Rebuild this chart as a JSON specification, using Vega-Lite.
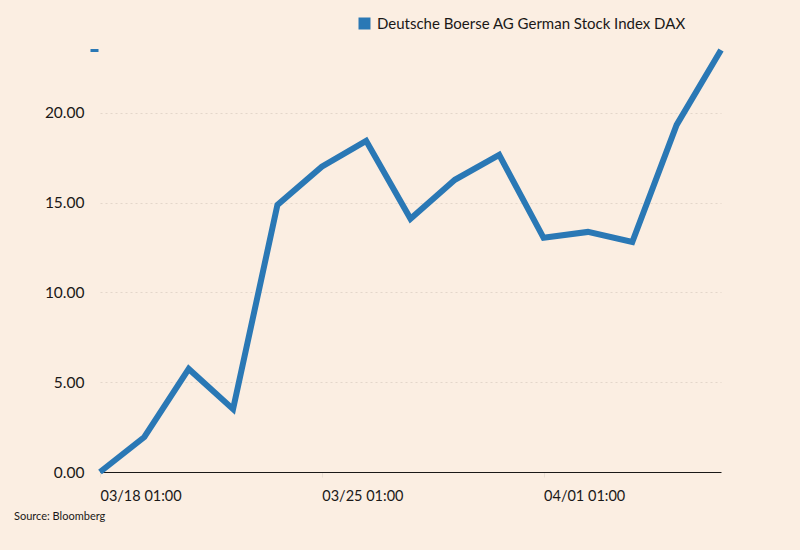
{
  "$schema": "https://vega.github.io/schema/vega-lite/v6.json",
  "autosize": {"type": "none"},
  "width": 621,
  "height": 422,
  "padding": {"left": 100, "top": 50, "right": 79, "bottom": 78},
  "background": "#fbeee2",
  "config": {
    "view": {"stroke": null},
    "font": "Lato",
    "axis": {"labelFont": "Lato", "labelColor": "#1a1817", "labelFontSize": 14},
    "legend": {"labelFont": "Lato"}
  },
  "title": {
    "text": "Source: Bloomberg",
    "orient": "bottom",
    "anchor": "start",
    "frame": "group",
    "dx": -86,
    "offset": 8,
    "fontSize": 11,
    "fontWeight": "normal",
    "color": "#1a1817",
    "font": "Lato"
  },
  "data": {
    "values": [
      {"date": "03/18 01:00", "value": 0.0, "series": "Deutsche Boerse AG German Stock Index DAX"},
      {"date": "03/19 01:00", "value": 1.95, "series": "Deutsche Boerse AG German Stock Index DAX"},
      {"date": "03/20 01:00", "value": 5.74, "series": "Deutsche Boerse AG German Stock Index DAX"},
      {"date": "03/21 01:00", "value": 3.5, "series": "Deutsche Boerse AG German Stock Index DAX"},
      {"date": "03/22 01:00", "value": 14.87, "series": "Deutsche Boerse AG German Stock Index DAX"},
      {"date": "03/25 01:00", "value": 17.0, "series": "Deutsche Boerse AG German Stock Index DAX"},
      {"date": "03/26 01:00", "value": 18.44, "series": "Deutsche Boerse AG German Stock Index DAX"},
      {"date": "03/27 01:00", "value": 14.1, "series": "Deutsche Boerse AG German Stock Index DAX"},
      {"date": "03/28 01:00", "value": 16.27, "series": "Deutsche Boerse AG German Stock Index DAX"},
      {"date": "03/29 01:00", "value": 17.66, "series": "Deutsche Boerse AG German Stock Index DAX"},
      {"date": "04/01 01:00", "value": 13.04, "series": "Deutsche Boerse AG German Stock Index DAX"},
      {"date": "04/02 01:00", "value": 13.37, "series": "Deutsche Boerse AG German Stock Index DAX"},
      {"date": "04/03 01:00", "value": 12.81, "series": "Deutsche Boerse AG German Stock Index DAX"},
      {"date": "04/04 01:00", "value": 19.33, "series": "Deutsche Boerse AG German Stock Index DAX"},
      {"date": "04/05 01:00", "value": 23.5, "series": "Deutsche Boerse AG German Stock Index DAX"}
    ]
  },
  "mark": {"type": "line", "strokeWidth": 6, "strokeJoin": "miter", "strokeCap": "butt"},
  "encoding": {
    "x": {
      "field": "date",
      "type": "ordinal",
      "sort": null,
      "scale": {"type": "point", "padding": 0},
      "axis": {
        "title": null,
        "values": ["03/18 01:00", "03/25 01:00", "04/01 01:00"],
        "labelAngle": 0,
        "labelAlign": "left",
        "labelBaseline": "middle",
        "labelPadding": 19,
        "labelFontSize": 14.5,
        "domainColor": "#1a1817",
        "domainWidth": 1.2,
        "tickColor": "#eadfd4",
        "tickSize": 5,
        "grid": false
      }
    },
    "y": {
      "field": "value",
      "type": "quantitative",
      "scale": {"domain": [0, 23.5], "nice": false, "zero": true},
      "axis": {
        "title": null,
        "values": [0, 5, 10, 15, 20, 23.5],
        "labelExpr": "datum.value == 23.5 ? '' : format(datum.value, '.2f')",
        "labelFontSize": 15.5,
        "domain": false,
        "offset": 2,
        "tickSize": 8,
        "tickWidth": 3,
        "tickColor": {"condition": {"test": "datum.value == 23.5", "value": "#2a78b5"}, "value": "transparent"},
        "labelPadding": 6,
        "labelBaseline": "middle",
        "grid": true,
        "gridColor": {"condition": {"test": "datum.value == 23.5 || datum.value == 0", "value": "transparent"}, "value": "#e3d6ca"},
        "gridDash": [2, 3],
        "gridWidth": 1
      }
    },
    "color": {
      "field": "series",
      "type": "nominal",
      "scale": {"range": ["#2a78b5"]},
      "legend": {
        "title": null,
        "orient": "none",
        "legendX": 257,
        "legendY": -34,
        "symbolType": "square",
        "symbolSize": 144,
        "symbolStrokeWidth": 0,
        "symbolFillColor": "#2a78b5",
        "symbolOpacity": 1,
        "labelFontSize": 15,
        "labelLimit": 500,
        "labelColor": "#1a1817",
        "labelOffset": 5
      }
    }
  }
}
